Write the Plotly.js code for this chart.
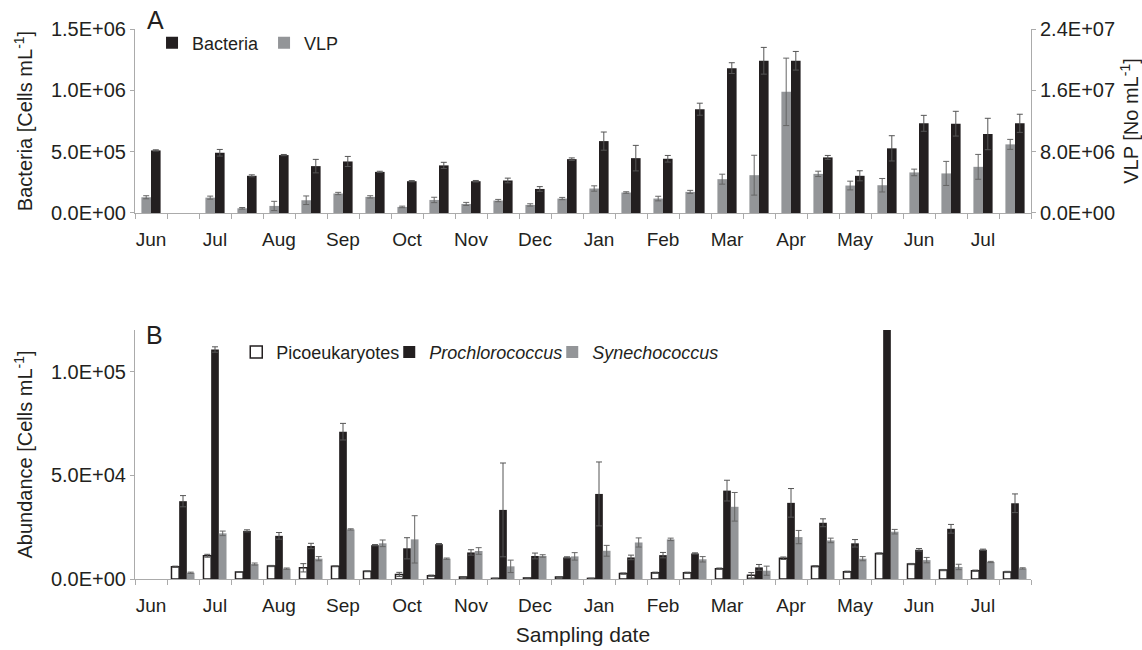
<!DOCTYPE html>
<html>
<head>
<meta charset="utf-8">
<script src="https://cdn.plot.ly/plotly-3.0.1.min.js"></script>
<style>html,body{margin:0;padding:0;background:#fff}#chart{width:1142px;height:650px}</style>
</head>
<body>
<div id="chart"></div>
<script>
// ---- data ----
const months = ["Jun","","Jul","","Aug","","Sep","","Oct","","Nov","","Dec","","Jan","","Feb","","Mar","","Apr","","May","","Jun","","Jul",""];

const bacteria    = [510000,null,491000,303000,472000,382000,420000,335000,259000,388000,259000,265000,196000,439000,586000,447000,442000,846000,1181000,1241000,1241000,453000,303000,527000,731000,728000,644000,731000];
const bacteriaErr = [5000,null,27000,8000,5000,55000,41000,5000,5000,25000,6000,19000,19000,10000,74000,104000,27000,49000,44000,109000,76000,16000,41000,103000,65000,101000,128000,74000];

const vlp    = [2.05e6,null,2.0e6,0.61e6,0.92e6,1.66e6,2.54e6,2.1e6,0.79e6,1.7e6,1.18e6,1.62e6,1.05e6,1.88e6,3.19e6,2.67e6,1.88e6,2.75e6,4.41e6,4.93e6,15.8e6,5.1e6,3.58e6,3.62e6,5.29e6,5.16e6,6.02e6,8.95e6];
const vlpErr = [0.2e6,null,0.2e6,0.1e6,0.6e6,0.56e6,0.15e6,0.15e6,0.1e6,0.35e6,0.2e6,0.15e6,0.15e6,0.15e6,0.35e6,0.1e6,0.3e6,0.2e6,0.65e6,2.6e6,4.4e6,0.35e6,0.57e6,0.88e6,0.43e6,1.57e6,1.62e6,0.65e6];

const pico    = [null,5900,11200,3400,6250,5400,6100,3700,2200,1600,1000,300,500,1000,300,2600,3000,3000,5000,1800,10000,6100,3500,12300,7200,4300,4000,3400];
const picoErr = [null,300,700,200,300,2000,200,200,1000,300,200,100,100,200,100,300,300,300,300,1300,600,300,300,300,300,300,300,300];

const pro    = [null,37500,110600,23200,20800,15900,71000,16300,14800,16800,12800,33300,11100,10400,41000,10400,11500,12300,42600,5600,36700,27100,17200,125000,14100,24200,14100,36500];
const proErr = [null,2700,1300,500,1600,1300,4000,300,5100,300,1300,22600,1400,300,15400,1100,1300,300,5000,1400,6900,1900,1800,0,600,2100,300,4500];

const syn    = [null,3000,22000,7200,5000,9800,23900,17200,19100,9800,13500,6100,11100,10900,13600,17600,19100,9500,34800,4000,20200,18600,9800,22800,9100,5800,8200,5100];
const synErr = [null,300,1100,500,300,1000,300,1600,11400,300,1600,3000,600,1800,2600,2200,600,1300,6900,2200,3200,1100,1000,1100,1300,1300,300,300];

const bactTickVals = [0, 5e5, 1e6, 1.5e6];
const bactTickText = ["0.0E+00","5.0E+05","1.0E+06","1.5E+06"];
const vlpTickVals  = [0, 8e6, 1.6e7, 2.4e7];
const vlpTickText  = ["0.0E+00","8.0E+06","1.6E+07","2.4E+07"];
const abTickVals   = [0, 5e4, 1e5];
const abTickText   = ["0.0E+00","5.0E+04","1.0E+05"];

// ---- styling ----
const FONT = "Liberation Sans, Arial, sans-serif";
const TXT = "#231f20";
const AX = "#ababab";
const BLACK = "#231f20";
const GREY = "#939598";
const x = months.map((_, i) => i);
const boundaries = months.map((_, i) => i - 0.5).concat([months.length - 0.5]);
const XR = [-0.5, months.length - 0.5];

function err(arr, col) {
  return {type: "data", array: arr, visible: true, color: col, thickness: 1, width: 3};
}

const traces = [
  {type: "bar", name: "Bacteria", x: x, y: bacteria, xaxis: "x", yaxis: "y",
   width: 0.3, offset: 0, marker: {color: BLACK}, error_y: err(bacteriaErr, "#555"), legend: "legend"},
  {type: "bar", name: "VLP", x: x, y: vlp, xaxis: "x", yaxis: "y2",
   width: 0.3, offset: -0.3, marker: {color: GREY}, error_y: err(vlpErr, "#666"), legend: "legend"},
  {type: "bar", name: "Picoeukaryotes", x: x, y: pico, xaxis: "x2", yaxis: "y3",
   width: 0.24, offset: -0.36, marker: {color: "#ffffff", line: {color: BLACK, width: 1.5}}, error_y: err(picoErr, "#555"),
   legend: "legend2", legendwidth: 108},
  {type: "bar", name: "<i>Prochlorococcus</i>", x: x, y: pro, xaxis: "x2", yaxis: "y3",
   width: 0.24, offset: -0.12, marker: {color: BLACK}, error_y: err(proErr, "#555"),
   legend: "legend2", legendwidth: 118},
  {type: "bar", name: "<i>Synechococcus</i>", x: x, y: syn, xaxis: "x2", yaxis: "y3",
   width: 0.24, offset: 0.12, marker: {color: GREY}, error_y: err(synErr, "#666"),
   legend: "legend2"}
];

// x axes: tick marks on the category boundaries; labels shifted half a category to the centre
const xBase = {
  range: XR, tickmode: "array", tickvals: boundaries,
  ticktext: boundaries.map((b, k) => (months[k] || "")),
  ticks: "outside", ticklen: 5, tickwidth: 1, tickcolor: AX,
  showline: true, linecolor: AX, linewidth: 1, showgrid: false, zeroline: false,
  tickfont: {family: FONT, size: 19, color: TXT}, ticklabelshift: 16, ticklabelstandoff: 4, fixedrange: true
};
function yBase(vals, text, rng) {
  return {range: rng, tickmode: "array", tickvals: vals, ticktext: text,
    ticks: "outside", ticklen: 4, tickcolor: AX, showline: true, linecolor: AX, linewidth: 1,
    showgrid: false, zeroline: false, tickfont: {family: FONT, size: 20, color: TXT}, fixedrange: true};
}
const titleFont = {family: FONT, size: 20, color: TXT};

const layout = {
  width: 1142, height: 650,
  margin: {l: 135, r: 111, t: 29, b: 71},
  paper_bgcolor: "#fff", plot_bgcolor: "#fff",
  font: {family: FONT, color: TXT, size: 18},
  barmode: "overlay",
  xaxis: Object.assign({}, xBase, {anchor: "y", domain: [0, 1]}),
  xaxis2: Object.assign({}, xBase, {anchor: "y3", domain: [0, 1],
    title: {text: "Sampling date", font: {family: FONT, size: 21, color: TXT}, standoff: 12}}),
  yaxis: Object.assign(yBase(bactTickVals, bactTickText, [0, 1.5e6]), {domain: [0.6655, 1], anchor: "x",
    title: {text: "Bacteria [Cells mL<sup>-1</sup>]", font: titleFont, standoff: 12}}),
  yaxis2: Object.assign(yBase(vlpTickVals, vlpTickText, [0, 2.4e7]), {overlaying: "y", side: "right", anchor: "x",
    title: {text: "VLP [No mL<sup>-1</sup>]", font: titleFont, standoff: 12}}),
  yaxis3: Object.assign(yBase(abTickVals, abTickText, [0, 1.2e5]), {domain: [0, 0.4527], anchor: "x2",
    title: {text: "Abundance [Cells mL<sup>-1</sup>]", font: titleFont, standoff: 12}}),
  legend: {orientation: "h", x: 0.019, xanchor: "left", y: 1.008, yanchor: "top",
    bgcolor: "rgba(0,0,0,0)", font: {family: FONT, size: 18, color: TXT}, itemwidth: 30, traceorder: "normal"},
  legend2: {orientation: "h", x: 0.113, xanchor: "left", y: 0.446, yanchor: "top",
    bgcolor: "rgba(0,0,0,0)", font: {family: FONT, size: 18, color: TXT}, itemwidth: 30, traceorder: "normal"},
  annotations: [
    {text: "A", xref: "paper", yref: "paper", x: 0.0234, y: 1.016, xanchor: "center", yanchor: "middle", showarrow: false, font: {family: FONT, size: 25, color: TXT}},
    {text: "B", xref: "paper", yref: "paper", x: 0.0223, y: 0.4445, xanchor: "center", yanchor: "middle", showarrow: false, font: {family: FONT, size: 25, color: TXT}}
  ],
  showlegend: true
};

Plotly.newPlot("chart", traces, layout, {displayModeBar: false, staticPlot: true});
</script>
</body>
</html>
